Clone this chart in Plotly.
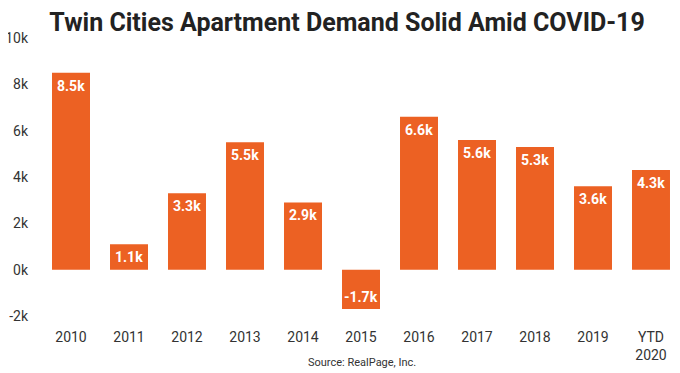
import plotly.graph_objects as go

categories = ["2010", "2011", "2012", "2013", "2014", "2015", "2016", "2017", "2018", "2019", "YTD<br>2020"]
demand = [8500, 1100, 3300, 5500, 2900, -1700, 6600, 5600, 5300, 3600, 4300]
bar_labels = ["8.5k", "1.1k", "3.3k", "5.5k", "2.9k", "-1.7k", "6.6k", "5.6k", "5.3k", "3.6k", "4.3k"]
y_tick_vals = [-2000, 0, 2000, 4000, 6000, 8000, 10000]
y_tick_text = ["-2k", "0k", "2k", "4k", "6k", "8k", "10k"]

fig = go.Figure(go.Bar(
    x=categories, y=demand,
    marker=dict(color="#EC6123", line=dict(width=0)),
    hoverinfo="skip",
))

# category axis: annotation x given as category index
label_annotations = [
    dict(x=i, y=v, xref="x", yref="y", text=t, showarrow=False,
         yshift=(-13 if v >= 0 else 12), xanchor="center", yanchor="middle",
         font=dict(family="Roboto", size=14, color="white", weight="bold"))
    for i, (v, t) in enumerate(zip(demand, bar_labels))
]

fig.update_layout(
    width=672, height=365,
    margin=dict(l=34, r=0, t=30, b=57, autoexpand=False),
    paper_bgcolor="white", plot_bgcolor="white",
    bargap=0.345,
    showlegend=False,
    title=dict(text="<b>Twin Cities Apartment Demand Solid Amid COVID-19</b>",
               x=0.5045, xanchor="center", y=0.962, yanchor="middle",
               font=dict(family="Roboto", size=25, color="#222222")),
    font=dict(family="Roboto", color="#333333"),
    annotations=label_annotations + [
        dict(text="Source: RealPage, Inc.", xref="paper", yref="paper",
             x=0.5016, y=-0.168, xanchor="center", yanchor="middle", showarrow=False,
             font=dict(family="Roboto", size=11, color="#333333"))],
)
fig.update_xaxes(type="category", range=[-0.5, len(categories) - 0.5],
                 showgrid=False, showline=False, ticks="", automargin=False,
                 tickfont=dict(size=14, color="#333333"), ticklabelstandoff=11)
fig.update_yaxes(range=[-2000, 10000], tickvals=y_tick_vals, ticktext=y_tick_text,
                 showgrid=False, zeroline=False, showline=False, ticks="", automargin=False,
                 tickfont=dict(size=14, color="#333333"), ticklabelstandoff=13)

fig.write_html("out.html")
